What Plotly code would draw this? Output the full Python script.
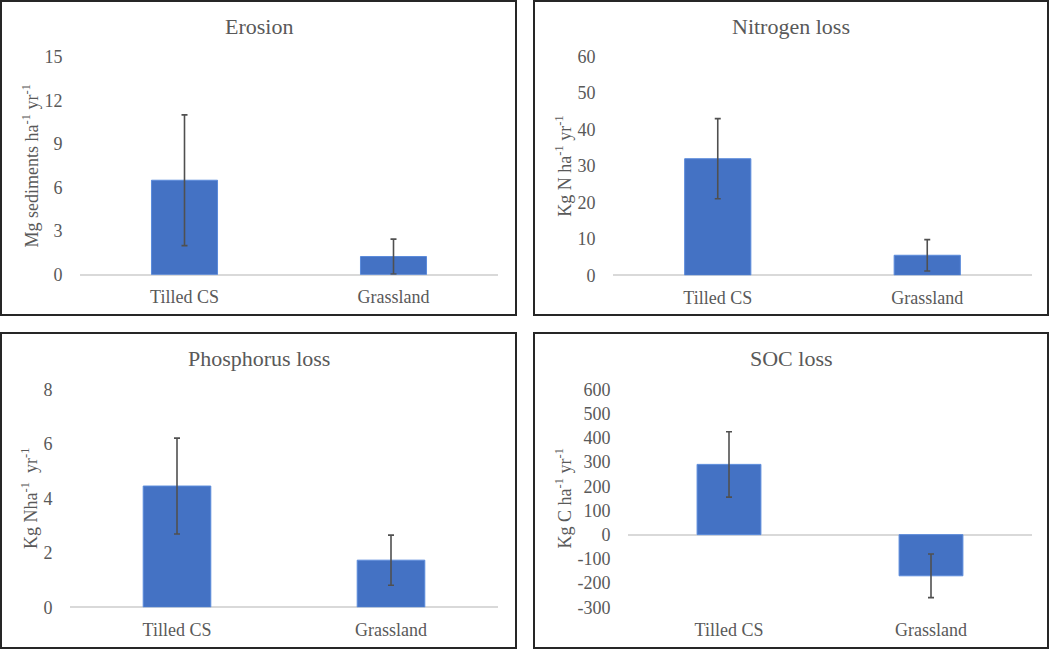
import plotly.graph_objects as go

categories = ["Tilled CS", "Grassland"]

erosion = [6.5, 1.25]
erosion_err = [4.5, 1.2]

nitrogen = [32.0, 5.5]
nitrogen_err = [11.0, 4.3]

phosphorus = [4.45, 1.73]
phosphorus_err = [1.76, 0.92]

soc = [290, -170]
soc_err = [135, 90]

titles = ["Erosion", "Nitrogen loss", "Phosphorus loss", "SOC loss"]
ytitles = [
    "Mg sediments ha<sup>-1</sup> yr<sup>-1</sup>",
    "Kg N ha<sup>-1</sup> yr<sup>-1</sup>",
    "Kg Nha<sup>-1</sup>  yr<sup>-1</sup>",
    "Kg C ha<sup>-1</sup> yr<sup>-1</sup>",
]
ytickvals = [
    [0, 3, 6, 9, 12, 15],
    [0, 10, 20, 30, 40, 50, 60],
    [0, 2, 4, 6, 8],
    [-300, -200, -100, 0, 100, 200, 300, 400, 500, 600],
]

W, H = 1050, 650
FONT = "Liberation Serif, Times New Roman, serif"
TXT = "#595959"
BAR = "#4472C4"

# plot-area pixel boxes (x0, x1, ytop, ybottom)
boxes = [
    (80, 498, 56.7, 274.7),
    (613, 1032, 56.7, 275.3),
    (70, 498, 389.3, 607.3),
    (628, 1032, 389.3, 607.3),
]
# panel borders (x0, y0, x1, y1) pixels
borders = [
    (1, 1, 516, 315),
    (534, 1, 1048, 315),
    (1, 333, 516, 648),
    (534, 333, 1048, 648),
]

data = [(erosion, erosion_err), (nitrogen, nitrogen_err),
        (phosphorus, phosphorus_err), (soc, soc_err)]

fig = go.Figure()
layout = dict(
    template="none",
    width=W, height=H, margin=dict(l=0, r=0, t=0, b=0, pad=0, autoexpand=False),
    paper_bgcolor="white", plot_bgcolor="white", showlegend=False,
    font=dict(family=FONT, color=TXT, size=18),
)
shapes = []
annotations = []

for i, ((vals, errs), box, border) in enumerate(zip(data, boxes, borders)):
    n = i + 1
    xa = "x" if n == 1 else f"x{n}"
    ya = "y" if n == 1 else f"y{n}"
    fig.add_trace(go.Bar(
        x=categories, y=vals, xaxis=xa, yaxis=ya,
        marker=dict(color=BAR, line=dict(color="#5B8BDB", width=1)),
        width=0.316,
        error_y=dict(type="data", array=errs, visible=True,
                     color="#505050", thickness=1.6, width=3),
    ))
    x0, x1, yt, yb = box
    xkey = "xaxis" if n == 1 else f"xaxis{n}"
    ykey = "yaxis" if n == 1 else f"yaxis{n}"
    tv = ytickvals[i]
    layout[xkey] = dict(
        domain=[x0 / W, x1 / W], anchor=ya, automargin=False,
        showgrid=False, showline=False, zeroline=False,
        ticks="outside", ticklen=6, tickcolor="rgba(0,0,0,0)",
        tickfont=dict(size=18, color=TXT, family=FONT),
        range=[-0.5, 1.5], fixedrange=True,
    )
    layout[ykey] = dict(
        domain=[1 - yb / H, 1 - yt / H], anchor=xa, automargin=False,
        range=[tv[0], tv[-1]], tickmode="array",
        tickvals=tv, ticktext=[str(v) for v in tv],
        showgrid=False, showline=False,
        zeroline=True, zerolinecolor="#D9D9D9", zerolinewidth=1.5,
        ticks="outside", ticklen=13, tickcolor="rgba(0,0,0,0)",
        tickfont=dict(size=18, color=TXT, family=FONT),
        title=dict(text=ytitles[i], font=dict(size=18, color=TXT, family=FONT), standoff=1),
        fixedrange=True,
    )
    bx0, by0, bx1, by1 = border
    shapes.append(dict(type="rect", xref="paper", yref="paper",
                       x0=bx0 / W, x1=bx1 / W, y0=1 - by1 / H, y1=1 - by0 / H,
                       line=dict(color="#262626", width=2), layer="above"))
    annotations.append(dict(
        text=titles[i], xref="paper", yref="paper",
        x=(bx0 + bx1) / 2 / W, y=1 - (by0 + 25) / H,
        xanchor="center", yanchor="middle", showarrow=False,
        font=dict(size=22, color=TXT, family=FONT),
    ))

layout["shapes"] = shapes
layout["annotations"] = annotations
fig.update_layout(**layout)

post = (
    "document.documentElement.style.margin='0';"
    "document.body.style.margin='0';document.body.style.padding='0';"
    "document.body.style.overflow='hidden';"
    "var d=document.getElementById('{plot_id}');"
    "d.style.position='absolute';d.style.left='0px';d.style.top='0px';"
)
fig.write_html("out.html", post_script=post, config={"displayModeBar": False})
